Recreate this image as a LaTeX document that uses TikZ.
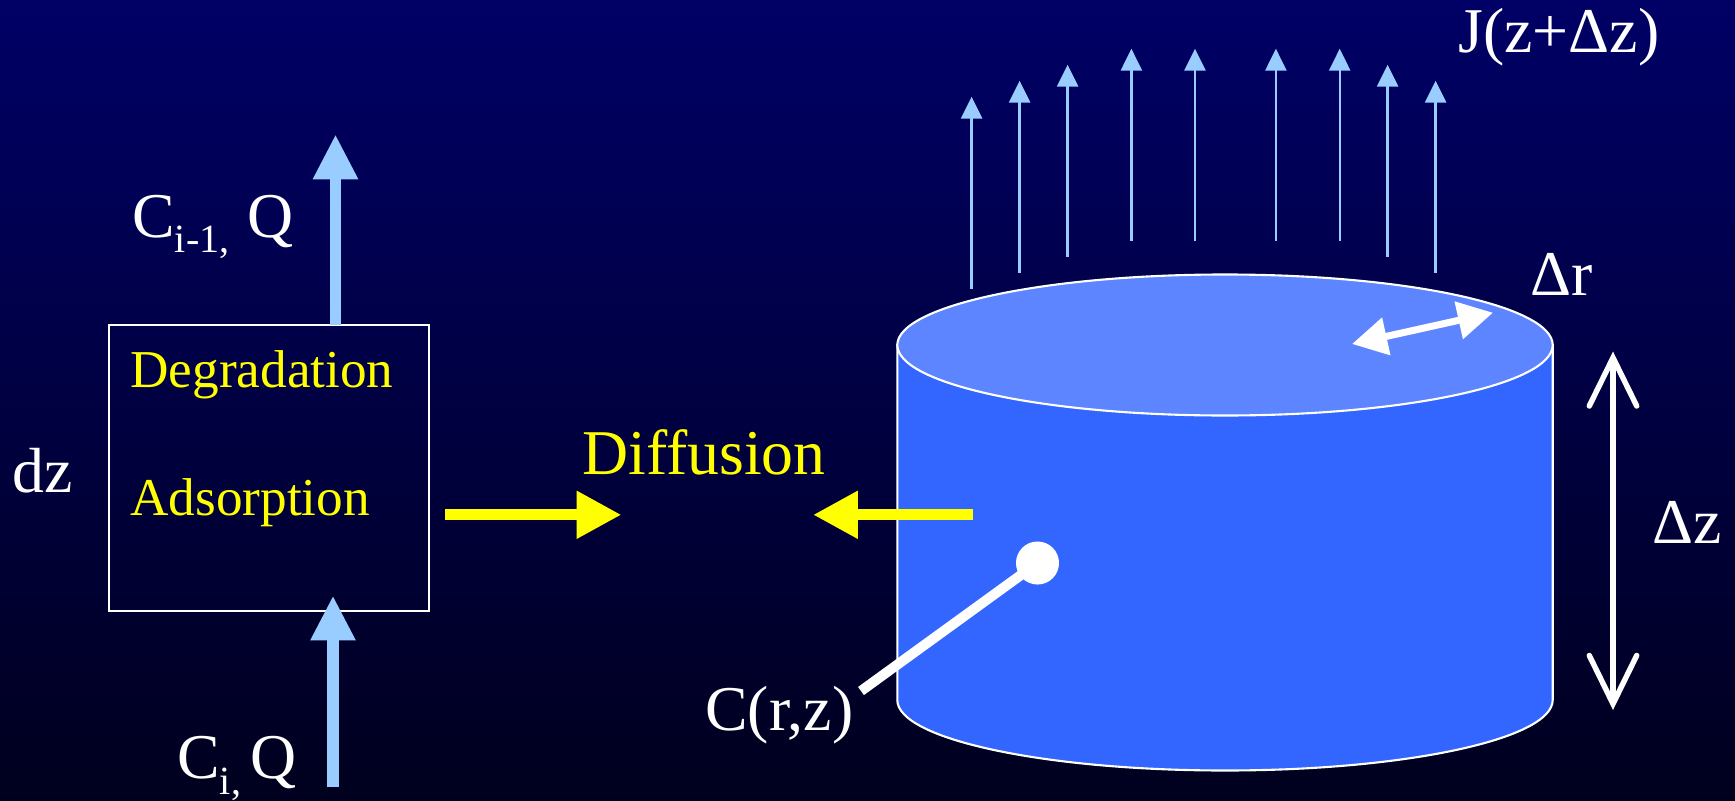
\documentclass[tikz,border=0pt]{standalone}
\usepackage{fontspec}
\setmainfont{Liberation Serif}
\usepackage{xcolor}
\usetikzlibrary{
    arrows.meta,
    shapes.geometric
}
\definecolor{skyTop}{RGB}{0,0,102}
\definecolor{skyBot}{RGB}{0,0,30}
\definecolor{flowC}{RGB}{153,204,255}
\definecolor{cylC}{RGB}{51,102,255}
\definecolor{capC}{RGB}{92,133,255}
\definecolor{diffC}{RGB}{255,255,0}
\tikzset{
  bigtxt/.style  = {anchor=base west, inner sep=0pt, text=white,
                    font=\fontsize{36.3}{40}\selectfont},
  yeltxt/.style  = {anchor=base west, inner sep=0pt, text=diffC,
                    font=\fontsize{30.3}{34}\selectfont},
  reactor/.style = {draw=white, line width=1.2pt, minimum width=182pt,
                    minimum height=162.4pt, inner sep=0pt},
  flowarr/.style = {-{Triangle[length=25.6pt, width=24pt]}, flowC, line width=6.8pt},
  fluxarr/.style = {-{Triangle[length=12.5pt, width=12pt]}, flowC, line width=1.3pt},
  diffarr/.style = {-{Triangle[length=25.6pt, width=25.6pt]}, diffC, line width=6.4pt},
  cylwall/.style = {draw=white, line width=1.2pt, fill=cylC},
  cylcap/.style  = {draw=white, line width=1.2pt, fill=capC},
  radarr/.style  = {{Triangle[length=20pt, width=21pt]}-{Triangle[length=20pt, width=21pt]},
                    white, line width=4pt},
  zarr/.style    = {{Straight Barb[length=27.5pt, width=27pt, line cap=round]}-{Straight Barb[length=27.5pt, width=27pt, line cap=round]},
                    white, line width=3.1pt},
  probe/.style   = {circle, fill=white, minimum size=24.5pt, inner sep=0pt}
}
\newcommand{\lowsub}[2]{\raisebox{#1}{\fontsize{22.8}{24}\selectfont #2}}
\newcommand{\drawflux}[4]{%
  \coordinate (fluxfoot#1) at (#2,#4);
  \coordinate (fluxtip#1)  at (#2,#3);
  \draw[fluxarr] (fluxfoot#1) -- (fluxtip#1);
}

\begin{document}
\begin{tikzpicture}[x=0.02cm, y=-0.02cm]

  %% ── Background ────────────────────────────────────────────────
  \useasboundingbox (0,0) rectangle (1735,801);
  \shade[top color=skyTop, bottom color=skyBot] (0,0) rectangle (1735,801);

  %% ── Cylinder ──────────────────────────────────────────────────
  \draw[cylwall] (897.3,345) -- (897.3,700)
    arc[start angle=180, end angle=0, x radius=327.7, y radius=70.5]
    -- (1552.7,345) -- cycle;
  \draw[cylcap] (1225,345) ellipse [x radius=327.7, y radius=70.5];

  %% ── Box ───────────────────────────────────────────────────────
  \node[reactor] (box) at (268.8,468) {};
  \node[yeltxt] (degr) at (130,387)   {Degradation};
  \node[yeltxt] (adso) at (130,515.4) {Adsorption};
  \node[bigtxt] (dz)   at (12,492)    {dz};

  %% ── Flow through the box ──────────────────────────────────────
  \coordinate (outfoot) at (335.5,325);
  \coordinate (outtip)  at (335.5,134.3);
  \coordinate (infoot)  at (333,786.6);
  \coordinate (intip)   at (333,595.5);
  \draw[flowarr] (outfoot) -- (outtip);
  \draw[flowarr] (infoot) -- (intip);
  \node[bigtxt] (cout) at (132,237) {C\lowsub{-9pt}{i-1,}\kern1.5pt{} Q};
  \node[bigtxt] (cin)  at (177,778.7) {C\lowsub{-9pt}{i,}\kern-3.5pt{} Q};

  %% ── Diffusion ─────────────────────────────────────────────────
  \node[anchor=base west, inner sep=0pt, text=diffC,
        font=\fontsize{36.3}{40}\selectfont] (diff) at (582,474) {Diffusion};
  \coordinate (diffa) at (445,514.8);
  \coordinate (diffb) at (621.5,514.8);
  \coordinate (diffc) at (973,514.8);
  \coordinate (diffd) at (813,514.8);
  \draw[diffarr] (diffa) -- (diffb);
  \draw[diffarr] (diffc) -- (diffd);

  %% ── C(r,z) ────────────────────────────────────────────────────
  \node[probe] (dot) at (1037.5,563) {};
  \coordinate (dotend) at (861,691);
  \draw[white, line width=5.7pt] (dot.center) -- (dotend);
  \node[bigtxt] (crz) at (705,730.7) {C(r,z)};

  %% ── Flux arrows above the cap ─────────────────────────────────
  \drawflux{a}{971.6}{96.7}{288.7}
  \drawflux{b}{1019.6}{80.7}{272.7}
  \drawflux{c}{1067.6}{64.7}{256.7}
  \drawflux{d}{1131.4}{48.7}{240.7}
  \drawflux{e}{1195}{48.7}{240.7}
  \drawflux{f}{1275.9}{48.7}{240.7}
  \drawflux{g}{1339.7}{48.7}{240.7}
  \drawflux{h}{1387.6}{64.7}{256.7}
  \drawflux{i}{1435.6}{80.7}{272.7}
  \node[bigtxt] (jflux) at (1458,52) {J(z+Δz)};

  %% ── Dimensions ────────────────────────────────────────────────
  \coordinate (radin)  at (1352,344);
  \coordinate (radout) at (1493,312.7);
  \draw[radarr] (radin) -- (radout);
  \node[bigtxt] (dr) at (1530,295) {Δr};
  \coordinate (ztop) at (1613,351.5);
  \coordinate (zbot) at (1613,710);
  \draw[zarr] (ztop) -- (zbot);
  \node[bigtxt] (dzz) at (1652,543) {Δz};

\end{tikzpicture}
\end{document}
